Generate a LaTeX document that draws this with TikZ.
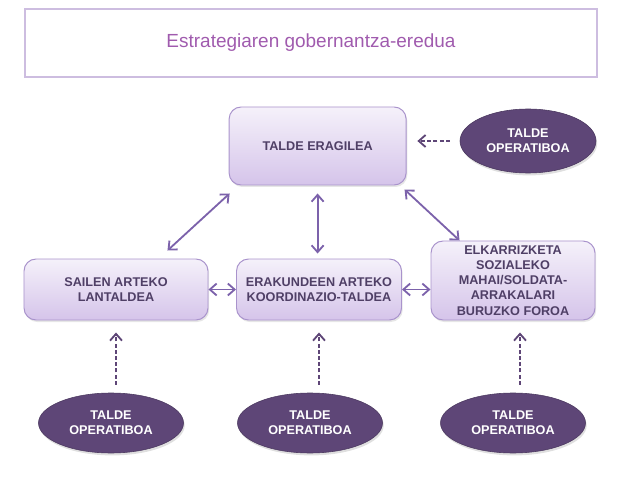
\documentclass[tikz,border=0pt]{standalone}
\usepackage{fontspec}
\setmainfont{Liberation Sans}
\usetikzlibrary{calc,arrows.meta,shadows,shapes.geometric}

\definecolor{titlecol}{HTML}{A05BAE}
\definecolor{titleline}{HTML}{CDBDE0}
\definecolor{boxtop}{HTML}{F5F1FA}
\definecolor{boxbot}{HTML}{D5C4EA}
\definecolor{boxline}{HTML}{A993CC}
\definecolor{boxtext}{HTML}{4F3F66}
\definecolor{opfill}{HTML}{5E4677}
\definecolor{arrowcol}{HTML}{7C62AB}

\tikzset{
    groupbox/.style={draw=boxline, line width=0.7pt, rounded corners=0.3cm,
        top color=boxtop, bottom color=boxbot, align=center,
        font=\fontsize{9}{10.8}\selectfont\bfseries, text=boxtext,
        drop shadow={shadow xshift=0.03cm, shadow yshift=-0.05cm, opacity=0.2}},
    opgroup/.style={ellipse, fill=opfill, draw=opfill!80!black, line width=0.4pt,
        align=center, text=white, inner sep=0pt,
        font=\fontsize{9}{10.8}\selectfont\bfseries,
        drop shadow={shadow xshift=0.03cm, shadow yshift=-0.06cm, opacity=0.25}},
    linkarrow/.style={draw=arrowcol, line width=1.3pt,
        {Straight Barb[length=1.7mm,width=3mm]}-{Straight Barb[length=1.7mm,width=3mm]}},
    feedarrow/.style={draw=opfill, line width=1.3pt, dash pattern=on 2.8pt off 1.6pt,
        -{Straight Barb[length=1.7mm,width=3mm]}}
}

\begin{document}
\begin{tikzpicture}
    \useasboundingbox (0, 0) rectangle (16.075, 12);

    \node[draw=titleline, line width=0.8pt, minimum width=14.3cm, minimum height=1.7cm,
        text=titlecol, font=\fontsize{13.5}{16}\selectfont] (title) at (7.775, 10.925)
        {Estrategiaren gobernantza-eredua};

    \node[groupbox, minimum width=4.425cm, minimum height=1.95cm] (eragile) at (7.94, 8.35)
        {TALDE ERAGILEA};
    \node[groupbox, minimum width=4.6cm, minimum height=1.525cm] (sailen) at (2.9, 4.7625)
        {SAILEN ARTEKO\\LANTALDEA};
    \node[groupbox, minimum width=4.125cm, minimum height=1.525cm] (erakunde) at (7.975, 4.7625)
        {ERAKUNDEEN ARTEKO\\KOORDINAZIO-TALDEA};
    \node[groupbox, minimum width=4.1cm, minimum height=1.975cm] (elkar) at (12.825, 4.9875)
        {ELKARRIZKETA\\SOZIALEKO\\MAHAI/SOLDATA-\\ARRAKALARI\\BURUZKO FOROA};

    \node[opgroup, minimum width=3.4cm, minimum height=1.6cm] (optop) at (13.2, 8.475)
        {TALDE\\OPERATIBOA};
    \node[opgroup, minimum width=3.625cm, minimum height=1.5cm] (opleft) at (2.775, 1.425)
        {TALDE\\OPERATIBOA};
    \node[opgroup, minimum width=3.625cm, minimum height=1.5cm] (opmid) at (7.75, 1.425)
        {TALDE\\OPERATIBOA};
    \node[opgroup, minimum width=3.625cm, minimum height=1.5cm] (opright) at (12.825, 1.425)
        {TALDE\\OPERATIBOA};

    \draw[linkarrow] ($(sailen.north east)+(-1.025, 0.2)$) -- ($(eragile.south west)+(0.025, -0.2)$);
    \draw[linkarrow, shorten <=0.2cm, shorten >=0.125cm] (eragile.south) -- (eragile.south |- erakunde.north);
    \draw[linkarrow] ($(eragile.south east)+(-0.05, -0.1)$) -- ($(elkar.north west)+(0.725, 0)$);
    \draw[linkarrow] (sailen.east) -- (erakunde.west);
    \draw[linkarrow] (erakunde.east) -- (erakunde.east -| elkar.west);

    \draw[feedarrow, shorten <=0.25cm, shorten >=0.27cm] (optop.west) -- (optop.west -| eragile.east);
    \draw[feedarrow, shorten <=0.2cm, shorten >=0.3cm] (sailen.south |- opleft.north) -- (sailen.south);
    \draw[feedarrow, shorten <=0.2cm, shorten >=0.3cm] (erakunde.south |- opmid.north) -- (erakunde.south);
    \draw[feedarrow, shorten <=0.2cm, shorten >=0.3cm] ($(elkar.south |- opright.north)+(0.175, 0)$) -- ($(elkar.south)+(0.175, 0)$);
\end{tikzpicture}
\end{document}
